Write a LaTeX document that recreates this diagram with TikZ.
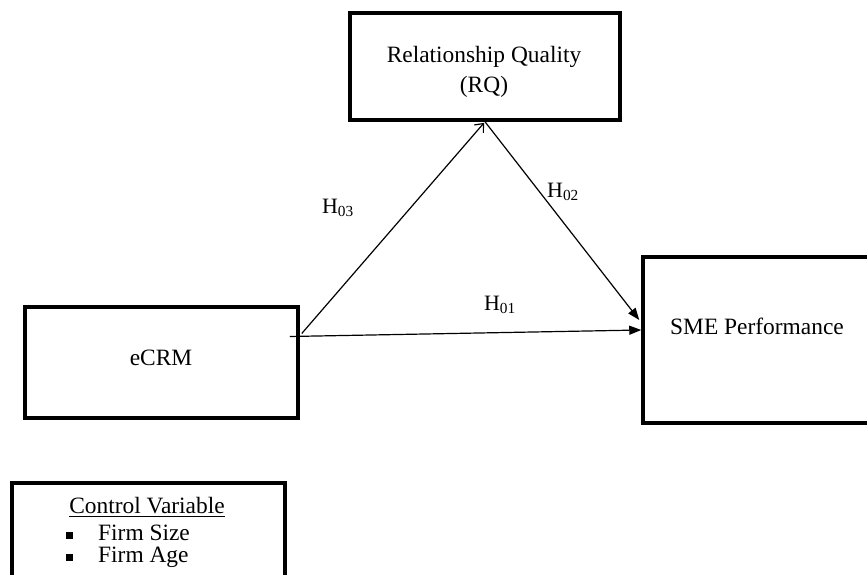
\documentclass[tikz,border=0pt]{standalone}
\usepackage{fontspec}
\setmainfont{Liberation Serif}
\usetikzlibrary{arrows.meta,calc}
\begin{document}
\begin{tikzpicture}[x=1bp,y=-1bp,
  box/.style={draw,line width=3.5bp,inner sep=0pt},
  txt/.style={inner sep=0pt,font=\fontsize{23.5}{30}\selectfont,align=center},
  hlab/.style={inner sep=0pt,font=\fontsize{22}{24}\selectfont},
  link/.style={line width=1.2bp}]
\useasboundingbox (0,0) rectangle (867,575);
\clip (0,0) rectangle (867,575);
\node[box,minimum width=270bp,minimum height=107bp] (rq) at (485,66.5) {};
\node[txt] (rqt) at (484,72) {Relationship Quality\\(RQ)};
\node[box,minimum width=273bp,minimum height=111bp] (ecrm) at (161.5,362.5) {};
\node[txt] (ecrmt) at (161,358) {eCRM};
\node[box,minimum width=232bp,minimum height=166bp] (sme) at (759,340) {};
\node[txt] (smet) at (757,326) {SME Performance};
\node[box,minimum width=273bp,minimum height=117bp] (ctrl) at (148.5,541.5) {};
\node[txt] (ctitle) at (147,507) {\underline{Control Variable}};
\node[inner sep=0pt,font=\fontsize{23.5}{22}\selectfont,align=left,anchor=north west] (clist) at (66,525)
  {\rule[1.5bp]{7bp}{7bp}\hspace{25bp}Firm Size\\\rule[1.5bp]{7bp}{7bp}\hspace{25bp}Firm Age};
\coordinate (s1) at ($(ecrm.east)+(2,-29)$);
\coordinate (s2) at ($(ecrm.east)+(-10,-26)$);
\coordinate (e2) at ($(sme.west)+(-2,-20)$);
\coordinate (e1) at ($(sme.west)+(0,-10)$);
\draw[link,-{Straight Barb[length=7bp,width=12bp]},shorten >=1.5bp] (s1) -- (rq.south);
\draw[link,-{Triangle[length=12bp,width=9bp]}] (rq.south) -- (e2);
\draw[link,-{Triangle[length=12bp,width=9bp]}] (s2) -- (e1);
\node[hlab] (h3) at (338,208) {H\textsubscript{03}};
\node[hlab] (h2) at (563,192) {H\textsubscript{02}};
\node[hlab] (h1) at (500,305) {H\textsubscript{01}};
\end{tikzpicture}
\end{document}
